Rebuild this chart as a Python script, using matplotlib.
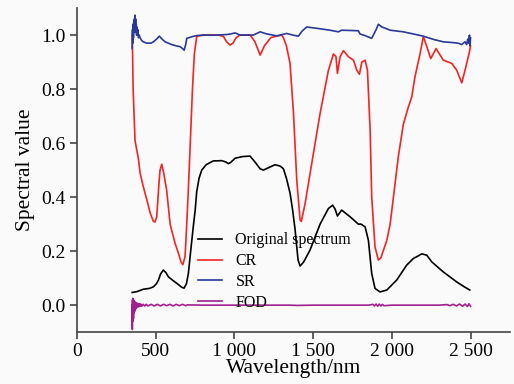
import matplotlib
matplotlib.use('Agg')
import matplotlib.pyplot as plt

# original reflectance spectrum
orig_wl = [350, 380, 421, 460, 485, 505, 517, 530, 548, 565, 580, 612, 640, 665,
           680, 695, 707, 718, 729, 740, 750, 760, 775, 792, 820, 865, 920, 945,
           960, 975, 1004, 1050, 1099, 1130, 1163, 1184, 1220, 1258, 1290, 1311,
           1330, 1353, 1370, 1385, 1404, 1417, 1440, 1480, 1544, 1597, 1624, 1640,
           1654, 1681, 1735, 1787, 1804, 1830, 1851, 1872, 1893, 1925, 1968, 2031,
           2094, 2137, 2160, 2190, 2222, 2254, 2327, 2412, 2460, 2495]
orig_val = [0.047, 0.050, 0.059, 0.062, 0.068, 0.080, 0.093, 0.115, 0.130, 0.120,
            0.105, 0.090, 0.078, 0.066, 0.063, 0.080, 0.117, 0.180, 0.240, 0.300,
            0.350, 0.420, 0.470, 0.500, 0.520, 0.534, 0.535, 0.530, 0.524, 0.528,
            0.544, 0.550, 0.552, 0.530, 0.505, 0.500, 0.510, 0.520, 0.515, 0.505,
            0.470, 0.415, 0.350, 0.280, 0.167, 0.145, 0.160, 0.204, 0.300, 0.358,
            0.370, 0.355, 0.330, 0.352, 0.327, 0.300, 0.300, 0.290, 0.240, 0.117,
            0.062, 0.049, 0.056, 0.093, 0.148, 0.173, 0.180, 0.190, 0.185, 0.160,
            0.123, 0.086, 0.068, 0.056]

# continuum removal
cr_wl = [350, 352, 356, 368, 390, 400, 420, 443, 465, 485, 495, 506, 520, 527,
         538, 550, 569, 591, 622, 645, 660, 672, 686, 695, 707, 724, 733, 745,
         760, 800, 900, 930, 950, 972, 990, 1010, 1035, 1100, 1130, 1163, 1190,
         1230, 1258, 1300, 1311, 1330, 1353, 1375, 1396, 1417, 1425, 1449, 1491,
         1544, 1597, 1629, 1645, 1654, 1671, 1692, 1724, 1756, 1777, 1794, 1809,
         1830, 1845, 1862, 1872, 1893, 1914, 1930, 1968, 1989, 2010, 2041, 2073,
         2105, 2126, 2147, 2179, 2200, 2222, 2247, 2281, 2327, 2381, 2412, 2444,
         2465, 2493, 2500]
cr_val = [1.000, 0.950, 0.800, 0.610, 0.540, 0.490, 0.440, 0.390, 0.340, 0.310,
          0.308, 0.327, 0.450, 0.500, 0.522, 0.490, 0.426, 0.300, 0.230, 0.190,
          0.160, 0.150, 0.180, 0.280, 0.430, 0.670, 0.800, 0.930, 0.995, 1.000,
          1.000, 0.995, 0.975, 0.963, 0.970, 0.990, 1.000, 1.000, 0.975, 0.926,
          0.960, 0.990, 0.995, 1.000, 0.990, 0.960, 0.895, 0.710, 0.460, 0.315,
          0.310, 0.377, 0.525, 0.710, 0.870, 0.930, 0.920, 0.858, 0.920, 0.942,
          0.920, 0.907, 0.870, 0.855, 0.900, 0.907, 0.870, 0.648, 0.400, 0.216,
          0.167, 0.175, 0.240, 0.300, 0.400, 0.550, 0.670, 0.734, 0.770, 0.846,
          0.930, 0.994, 0.957, 0.913, 0.950, 0.907, 0.895, 0.870, 0.823, 0.870,
          0.938, 0.960]

# spectral ratio
sr_wl = [350, 352, 354, 356, 358, 360, 362, 364, 366, 368, 370, 372, 374, 376,
         378, 380, 383, 386, 390, 395, 400, 410, 420, 443, 470, 485, 505, 523,
         540, 559, 580, 600, 612, 630, 655, 670, 680, 690, 697, 710, 729, 760,
         800, 888, 951, 975, 1004, 1035, 1120, 1163, 1200, 1269, 1332, 1370,
         1406, 1430, 1459, 1523, 1607, 1660, 1681, 1787, 1798, 1830, 1872, 1900,
         1914, 1936, 1960, 1989, 2073, 2137, 2200, 2264, 2327, 2391, 2420, 2444,
         2465, 2475, 2482, 2488, 2493, 2497, 2500]
sr_val = [0.950, 1.020, 0.970, 1.040, 0.990, 1.050, 1.010, 1.060, 1.020, 1.074,
          1.030, 1.060, 1.010, 1.040, 1.000, 1.030, 1.000, 1.020, 0.990, 1.000,
          0.990, 0.980, 0.975, 0.970, 0.970, 0.975, 0.985, 0.996, 0.985, 0.975,
          0.970, 0.965, 0.963, 0.960, 0.957, 0.950, 0.944, 0.965, 0.988, 0.990,
          0.994, 0.998, 1.000, 1.000, 1.002, 1.004, 1.008, 1.000, 1.000, 1.012,
          1.005, 0.997, 1.006, 1.000, 0.996, 1.015, 1.030, 1.025, 1.018, 1.012,
          1.018, 1.016, 1.004, 0.998, 0.988, 1.020, 1.040, 1.030, 1.025, 1.018,
          1.012, 1.004, 0.996, 0.984, 0.975, 0.972, 0.970, 0.965, 0.975, 0.965,
          0.985, 0.970, 1.000, 0.960, 0.990]

# first-order derivative
fod_wl = [350, 351, 352, 353, 354, 355, 357, 358, 360, 361, 363, 364, 366, 368,
          370, 372, 375, 378, 381, 384, 388, 392, 396, 400, 405, 410, 420, 430,
          440, 450, 470, 490, 510, 530, 550, 570, 590, 610, 630, 650, 670, 690,
          700, 800, 1000, 1350, 1400, 1500, 1850, 1880, 1890, 1900, 1910, 1920,
          1930, 1940, 1950, 2000, 2300, 2350, 2370, 2390, 2410, 2430, 2450, 2465,
          2480, 2490, 2500]
fod_val = [0.000, -0.090, 0.020, -0.060, 0.025, -0.040, 0.020, -0.050, 0.018,
           -0.030, 0.015, -0.025, 0.012, -0.020, 0.010, -0.015, 0.008, -0.010,
           0.007, -0.007, 0.006, -0.006, 0.005, -0.004, 0.004, -0.004, 0.003,
           -0.003, 0.003, -0.003, 0.003, -0.003, 0.003, -0.003, 0.003, -0.002,
           0.003, -0.003, 0.003, -0.002, 0.003, -0.002, 0.001, 0.000, 0.000,
           0.000, -0.001, 0.000, 0.000, 0.003, -0.003, 0.004, -0.004, 0.004,
           -0.003, 0.003, -0.002, 0.000, 0.000, 0.002, -0.002, 0.003, -0.003,
           0.004, -0.004, 0.004, -0.005, 0.005, -0.004]

x_ticks = [0, 500, 1000, 1500, 2000, 2500]
x_tick_labels = ['0', '500', '1 000', '1 500', '2 000', '2 500']
y_ticks = [0.0, 0.2, 0.4, 0.6, 0.8, 1.0]

plt.rcParams['font.family'] = ['Liberation Serif', 'DejaVu Serif']

fig = plt.figure(figsize=(5.14, 3.84), dpi=100, facecolor='#fafafa')
ax = fig.add_axes([0.150, 0.135, 0.842, 0.844])
ax.set_facecolor('#fafafa')

lw = 1.2
ax.plot(orig_wl, orig_val, color='black', lw=lw, label='Original spectrum')
ax.plot(cr_wl, cr_val, color='#f22424', lw=lw, label='CR')
ax.plot(sr_wl, sr_val, color='#2a3897', lw=lw, label='SR')
ax.plot(fod_wl, fod_val, color='#a2208e', lw=lw, label='FOD')

ax.set_xlim(0, 2750)
ax.set_ylim(-0.1, 1.1)
ax.set_xticks(x_ticks)
ax.set_xticklabels(x_tick_labels)
ax.set_yticks(y_ticks)
ax.set_yticklabels([f'{v:.1f}' for v in y_ticks])

for side in ('top', 'right'):
    ax.spines[side].set_visible(False)
for side in ('left', 'bottom'):
    ax.spines[side].set_linewidth(1.2)
    ax.spines[side].set_color('#444444')
ax.tick_params(direction='out', length=5, width=1.2, color='#444444',
               labelsize=14, pad=3)

ax.set_xlabel('Wavelength/nm', fontsize=15.5, labelpad=-1)
ax.set_ylabel('Spectral value', fontsize=15.5, labelpad=5)

ax.legend(loc='upper left', bbox_to_anchor=(0.279, 0.308), frameon=False,
          fontsize=11.5, handlelength=1.5, handletextpad=0.85, labelspacing=0.3,
          borderpad=0, borderaxespad=0)

fig.savefig('out.png', dpi=100, facecolor=fig.get_facecolor())
